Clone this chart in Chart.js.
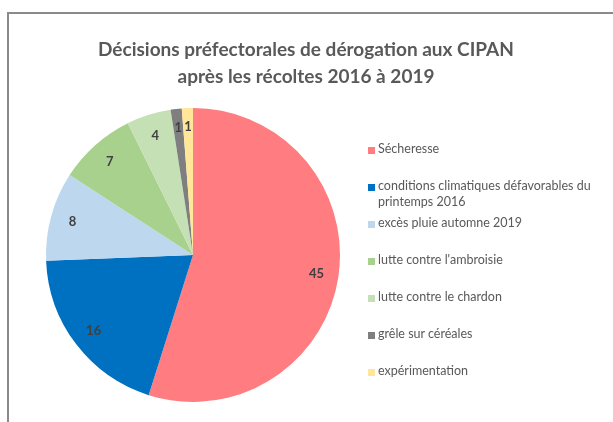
<!DOCTYPE html>
<html lang="fr">
<head>
<meta charset="utf-8">
<script src="https://cdn.jsdelivr.net/npm/chart.js@4"></script>
<style>
  html, body { margin: 0; padding: 0; background: #fff; }
  body { width: 613px; height: 422px; position: relative; overflow: hidden; font-family: Lato, "Open Sans", sans-serif; }
  .frame { position: absolute; left: 7px; top: 12px; width: 700px; height: 500px; border: 2px solid #8a8a8a; }
  #chart { position: absolute; left: 0; top: 0; }
  .title { position: absolute; left: 0; top: 35px; width: 612px; text-align: center; color: #595959;
           font-weight: bold; font-size: 19px; line-height: 27px; }
  .legend { position: absolute; left: 368px; top: 141px; }
  .legend .item { position: relative; height: 37px; width: 232px; }
  .legend .box { position: absolute; left: 0; top: 6px; width: 7px; height: 7px; }
  .legend .txt { position: absolute; left: 10px; top: 0; width: 224px; font-size: 12.5px; line-height: 16px; color: #595959; }
</style>
</head>
<body>
<div class="frame"></div>
<canvas id="chart" width="613" height="422"></canvas>
<div class="title">Décisions préfectorales de dérogation aux CIPAN<br>après les récoltes 2016 à 2019</div>
<div class="legend" id="legend"></div>
<script>
// ── Data ───────────────────────────────────────────
const categories = [
  'Sécheresse',
  'conditions climatiques défavorables du printemps 2016',
  'excès pluie automne 2019',
  "lutte contre l'ambroisie",
  'lutte contre le chardon',
  'grêle sur céréales',
  'expérimentation'
];
const values = [45, 16, 8, 7, 4, 1, 1];
const colors = ['#ff7c80', '#0070c0', '#bdd7ee', '#a9d18e', '#c5e0b4', '#7f7f7f', '#ffe699'];

// ── HTML legend ────────────────────────────────────
const legendEl = document.getElementById('legend');
categories.forEach((name, i) => {
  const item = document.createElement('div');
  item.className = 'item';
  item.innerHTML = `<span class="box" style="background:${colors[i]}"></span><span class="txt">${name}</span>`;
  legendEl.appendChild(item);
});

// ── Value labels inside slices ─────────────────────
const sliceLabels = {
  id: 'sliceLabels',
  afterDatasetsDraw(chart) {
    const ctx = chart.ctx;
    const meta = chart.getDatasetMeta(0);
    ctx.save();
    ctx.font = 'bold 13px Lato, "Open Sans", sans-serif';
    ctx.fillStyle = '#404040';
    ctx.textAlign = 'center';
    ctx.textBaseline = 'middle';
    meta.data.forEach((arc, i) => {
      const p = arc.getProps(['x', 'y', 'startAngle', 'endAngle', 'outerRadius'], true);
      const mid = (p.startAngle + p.endAngle) / 2;
      const r = p.outerRadius * (values[i] > 2 ? 0.85 : 0.87);
      ctx.fillText(String(values[i]), p.x + Math.cos(mid) * r, p.y + Math.sin(mid) * r);
    });
    ctx.restore();
  }
};

new Chart(document.getElementById('chart'), {
  type: 'pie',
  data: {
    labels: categories,
    datasets: [{
      data: values,
      backgroundColor: colors,
      borderWidth: 0
    }]
  },
  options: {
    responsive: false,
    animation: false,
    layout: { padding: { left: 46, right: 273, top: 108, bottom: 20 } },
    plugins: {
      legend: { display: false },
      title: { display: false },
      tooltip: { enabled: false }
    }
  },
  plugins: [sliceLabels]
});
</script>
</body>
</html>
